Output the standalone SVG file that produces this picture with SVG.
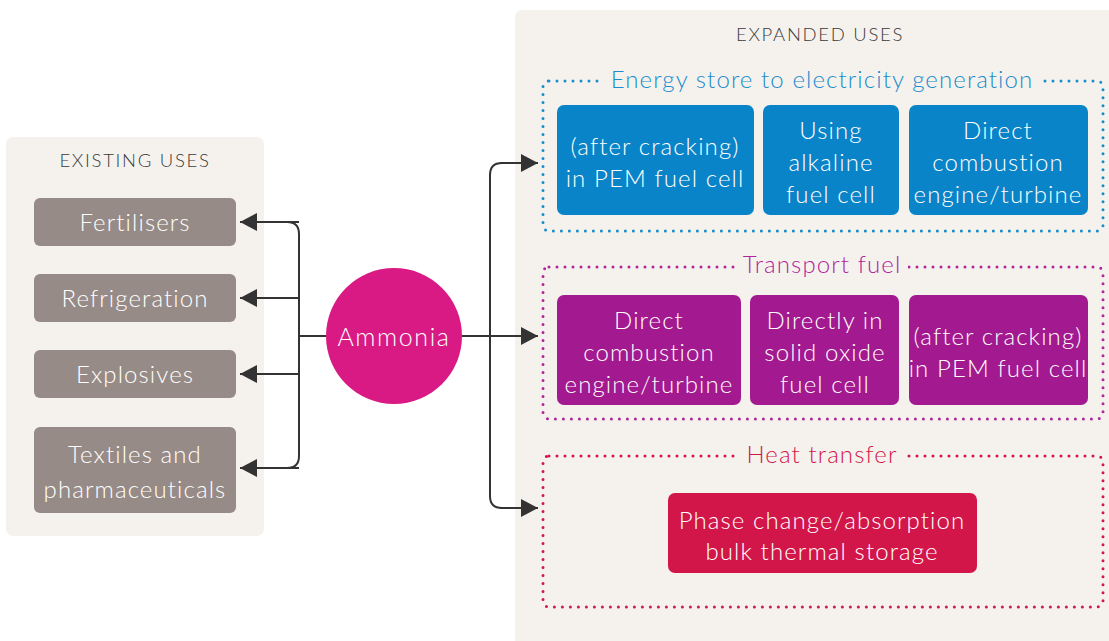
<svg xmlns="http://www.w3.org/2000/svg" width="1109" height="641" viewBox="0 0 1109 641">
<style>
text{font-family:Lato,"Open Sans","Liberation Sans",sans-serif;font-weight:300;text-anchor:middle;letter-spacing:1.1px}
.panel{fill:#f5f2ee}
.head{font-size:18.5px;fill:#3a3a3a;letter-spacing:1.7px}
.grey{fill:#978b87}
.blue{fill:#0a84c8}
.purple{fill:#a3198f}
.red{fill:#d21649}
.wt{fill:#ffffff;font-size:24px}
.title{font-size:24px}
.conn{fill:none;stroke:#333333;stroke-width:2}
.dot{fill:none;stroke-width:3;stroke-linecap:round;stroke-dasharray:0 8}
</style>
<defs>
<marker id="ah" markerUnits="userSpaceOnUse" markerWidth="18" markerHeight="18" refX="17" refY="9" orient="auto">
<path d="M0,0 L17,9 L0,18 Z" fill="#333333"/>
</marker>
</defs>
<rect class="panel" x="6" y="137" width="258" height="399" rx="7"/>
<rect class="panel" x="515" y="10" width="600" height="640" rx="7"/>
<text class="head" x="135" y="167">EXISTING USES</text>
<text class="head" x="820" y="41">EXPANDED USES</text>

<g id="connectors">
<path class="conn" d="M326,336 H299"/>
<path class="conn" d="M240,222 H287 Q299,222 299,234 V456 Q299,468 287,468 H240"/>
<path class="conn" d="M299,222 H240" marker-end="url(#ah)"/>
<path class="conn" d="M299,298 H240" marker-end="url(#ah)"/>
<path class="conn" d="M299,374 H240" marker-end="url(#ah)"/>
<path class="conn" d="M299,468 H240" marker-end="url(#ah)"/>
<path class="conn" d="M462,336 H538" marker-end="url(#ah)"/>
<path class="conn" d="M538,163 H502 Q490,163 490,175 V496 Q490,508 502,508 H538"/>
<path class="conn" d="M500,163 H538" marker-end="url(#ah)"/>
<path class="conn" d="M500,508 H538" marker-end="url(#ah)"/>
</g>

<g id="fertilisers"><rect class="grey" x="34" y="198" width="202" height="48" rx="6"/><text class="wt" x="135" y="231">Fertilisers</text></g>
<g id="refrigeration"><rect class="grey" x="34" y="274" width="202" height="48" rx="6"/><text class="wt" x="135" y="307">Refrigeration</text></g>
<g id="explosives"><rect class="grey" x="34" y="350" width="202" height="48" rx="6"/><text class="wt" x="135" y="383">Explosives</text></g>
<g id="textiles"><rect class="grey" x="34" y="427" width="202" height="86" rx="6"/><text class="wt" x="135" y="463">Textiles and</text><text class="wt" x="135" y="498">pharmaceuticals</text></g>

<g id="ammonia"><circle cx="394" cy="336" r="68" fill="#d91a85"/><text class="wt" x="394" y="346" style="font-size:25px;letter-spacing:1.6px">Ammonia</text></g>

<g id="energy-group">
<rect class="dot" x="543" y="81" width="560" height="150" rx="6" stroke="#1a8ccc"/>
<rect class="panel" x="600" y="68" width="442" height="26"/>
<text class="title" x="822" y="88" style="fill:#1a8ccc">Energy store to electricity generation</text>
</g>
<g id="e-pem"><rect class="blue" x="557" y="105" width="197" height="110" rx="7"/><text class="wt" x="655" y="155">(after cracking)</text><text class="wt" x="655" y="187">in PEM fuel cell</text></g>
<g id="e-alkaline"><rect class="blue" x="763" y="105" width="136" height="110" rx="7"/><text class="wt" x="831" y="139">Using</text><text class="wt" x="831" y="171">alkaline</text><text class="wt" x="831" y="203">fuel cell</text></g>
<g id="e-combustion"><rect class="blue" x="909" y="105" width="179" height="110" rx="7"/><text class="wt" x="998" y="139">Direct</text><text class="wt" x="998" y="171">combustion</text><text class="wt" x="998" y="203">engine/turbine</text></g>

<g id="transport-group">
<rect class="dot" x="543" y="267" width="560" height="152" rx="6" stroke="#b0259b"/>
<rect class="panel" x="736" y="254" width="172" height="26"/>
<text class="title" x="822" y="273" style="fill:#b0259b">Transport fuel</text>
</g>
<g id="t-combustion"><rect class="purple" x="557" y="295" width="184" height="110" rx="7"/><text class="wt" x="649" y="329">Direct</text><text class="wt" x="649" y="361">combustion</text><text class="wt" x="649" y="393">engine/turbine</text></g>
<g id="t-sofc"><rect class="purple" x="750" y="295" width="149" height="110" rx="7"/><text class="wt" x="825" y="329">Directly in</text><text class="wt" x="825" y="361">solid oxide</text><text class="wt" x="825" y="393">fuel cell</text></g>
<g id="t-pem"><rect class="purple" x="909" y="295" width="179" height="110" rx="7"/><text class="wt" x="998" y="345">(after cracking)</text><text class="wt" x="998" y="377">in PEM fuel cell</text></g>

<g id="heat-group">
<rect class="dot" x="543" y="456" width="560" height="151" rx="6" stroke="#d21649"/>
<rect class="panel" x="738" y="443" width="168" height="26"/>
<text class="title" x="822" y="463" style="fill:#d21649">Heat transfer</text>
</g>
<g id="h-storage"><rect class="red" x="668" y="493" width="309" height="80" rx="7"/><text class="wt" x="822" y="529">Phase change/absorption</text><text class="wt" x="822" y="560">bulk thermal storage</text></g>
</svg>
